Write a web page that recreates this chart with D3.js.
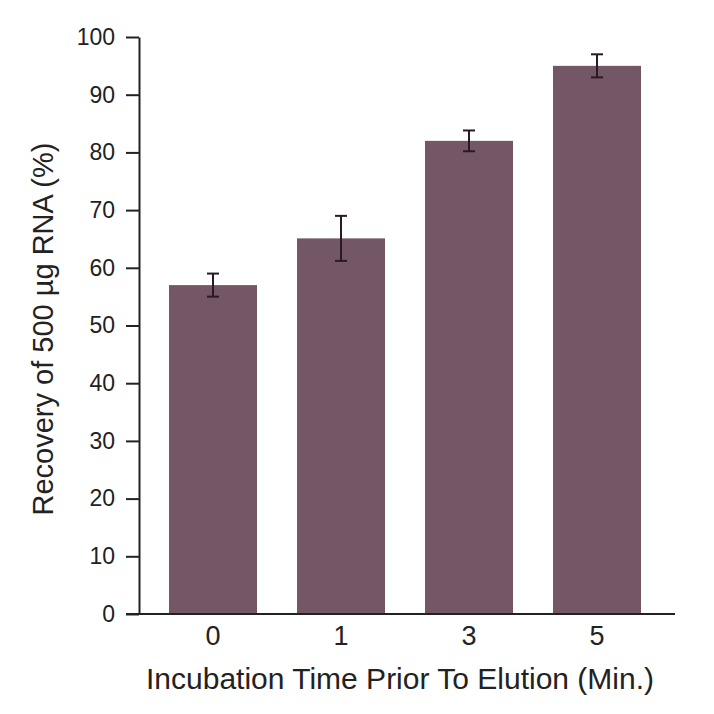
<!DOCTYPE html>
<html lang="en">
<head>
    <meta charset="UTF-8">
    <script src="https://d3js.org/d3.v7.min.js"></script>
    <title>RNA Recovery</title>
</head>
<style>
* {
    font-family: 'Liberation Sans', Arial, sans-serif;
}
body {
    margin: 0;
    background-color: #ffffff;
}
.tick text {
    fill: #222222;
}
.bar {
    fill: #745766;
}
</style>
<body>
    <svg id='canvas'></svg>
</body>
<script>
let categories = ['0', '1', '3', '5']
let recovery = [57, 65.1, 82, 95]
let errors = [2, 3.9, 1.8, 2]
let yTicks = [0, 10, 20, 30, 40, 50, 60, 70, 80, 90, 100]

let width = 714
let height = 714

let svg = d3.select('#canvas')
    .attr('width', width)
    .attr('height', height)

let xScale = d3.scaleBand()
    .domain(categories)
    .range([149, 661])
    .paddingInner(0.3125)
    .paddingOuter(0.15625)

let yScale = d3.scaleLinear()
    .domain([0, 100])
    .range([614, 37])

let values = categories.map((c, i) => {
    return {cat: c, val: recovery[i], err: errors[i]}
})

// bars
svg.selectAll('.bar')
    .data(values)
    .enter()
    .append('rect')
    .attr('class', 'bar')
    .attr('x', (d) => xScale(d.cat))
    .attr('width', xScale.bandwidth())
    .attr('y', (d) => yScale(d.val))
    .attr('height', (d) => yScale(0) - yScale(d.val))

// error bars
let errG = svg.selectAll('.err')
    .data(values)
    .enter()
    .append('g')
    .attr('class', 'err')
    .attr('stroke', '#2a1a24')
    .attr('stroke-width', 2)

let cx = (d) => xScale(d.cat) + xScale.bandwidth() / 2

errG.append('line')
    .attr('x1', cx)
    .attr('x2', cx)
    .attr('y1', (d) => yScale(d.val + d.err))
    .attr('y2', (d) => yScale(d.val - d.err))

errG.append('line')
    .attr('x1', (d) => cx(d) - 6)
    .attr('x2', (d) => cx(d) + 6)
    .attr('y1', (d) => yScale(d.val + d.err))
    .attr('y2', (d) => yScale(d.val + d.err))

errG.append('line')
    .attr('x1', (d) => cx(d) - 6)
    .attr('x2', (d) => cx(d) + 6)
    .attr('y1', (d) => yScale(d.val - d.err))
    .attr('y2', (d) => yScale(d.val - d.err))

// axes
let yAxis = d3.axisLeft(yScale)
    .tickValues(yTicks)
    .tickSize(13)
    .tickPadding(11)
    .tickSizeOuter(0)

let yG = svg.append('g')
    .attr('transform', 'translate(139, 0)')
    .call(yAxis)
yG.selectAll('text').attr('font-size', 23)
yG.select('.domain').attr('stroke', '#222').attr('stroke-width', 2)
yG.selectAll('.tick line').attr('stroke', '#222').attr('stroke-width', 2)

let xAxis = d3.axisBottom(xScale)
    .tickSize(0)
    .tickPadding(12)
    .tickSizeOuter(0)

let xG = svg.append('g')
    .attr('transform', 'translate(0, 614)')
    .call(xAxis)
xG.selectAll('text').attr('font-size', 27)
xG.select('.domain').attr('d', 'M126,0H675').attr('stroke', '#222').attr('stroke-width', 2)

// titles
svg.append('text')
    .attr('x', 400)
    .attr('y', 689)
    .attr('text-anchor', 'middle')
    .attr('font-size', 30)
    .attr('fill', '#222')
    .text('Incubation Time Prior To Elution (Min.)')

svg.append('text')
    .attr('transform', 'translate(53, 329) rotate(-90)')
    .attr('text-anchor', 'middle')
    .attr('font-size', 29)
    .attr('fill', '#222')
    .text('Recovery of 500 µg RNA (%)')
</script>
</html>
